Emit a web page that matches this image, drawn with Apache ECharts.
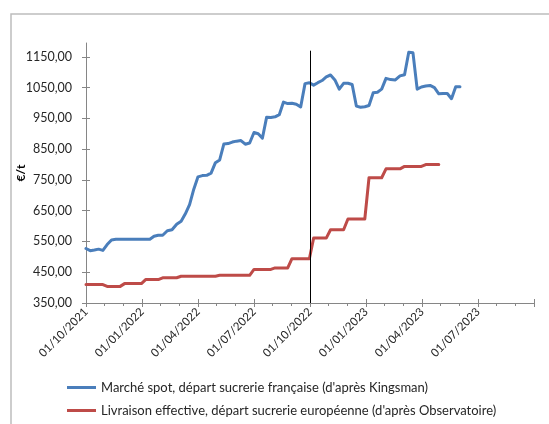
<!DOCTYPE html>
<html>
<head>
<meta charset="utf-8">
<script src="https://cdn.jsdelivr.net/npm/echarts@6/dist/echarts.min.js"></script>
<style>
  html, body { margin: 0; padding: 0; background: #ffffff; }
  #chart { width: 549px; height: 424px; }
</style>
</head>
<body>
<div id="chart"></div>
<script>
// Weekly observation dates
const weekDates = [
  '2021-10-01','2021-10-08','2021-10-15','2021-10-22','2021-10-29','2021-11-05','2021-11-12','2021-11-19','2021-11-26',
  '2021-12-03','2021-12-10','2021-12-17','2021-12-24','2021-12-31',
  '2022-01-07','2022-01-14','2022-01-21','2022-01-28','2022-02-04','2022-02-11','2022-02-18','2022-02-25',
  '2022-03-04','2022-03-11','2022-03-18','2022-03-25','2022-04-01','2022-04-08','2022-04-15','2022-04-22','2022-04-29',
  '2022-05-06','2022-05-13','2022-05-20','2022-05-27','2022-06-03','2022-06-10','2022-06-17','2022-06-24',
  '2022-07-01','2022-07-08','2022-07-15','2022-07-22','2022-07-29','2022-08-05','2022-08-12','2022-08-19','2022-08-26',
  '2022-09-02','2022-09-09','2022-09-16','2022-09-23','2022-09-30','2022-10-07','2022-10-14','2022-10-21','2022-10-28',
  '2022-11-04','2022-11-11','2022-11-18','2022-11-25','2022-12-02','2022-12-09','2022-12-16','2022-12-23','2022-12-30',
  '2023-01-06','2023-01-13','2023-01-20','2023-01-27','2023-02-03','2023-02-10','2023-02-17','2023-02-24',
  '2023-03-03','2023-03-10','2023-03-17','2023-03-24','2023-03-31','2023-04-07','2023-04-14','2023-04-21','2023-04-28',
  '2023-05-05','2023-05-12','2023-05-19','2023-05-26','2023-06-02'
];

// Spot market price, French sugar factory (€/t)
const spotPrices = [
  527, 520, 522, 525, 521, 540, 555, 557, 557, 557, 557, 557, 557, 557,
  557, 557, 567, 570, 570, 585, 588, 606, 616, 640, 670, 720, 760, 764, 765, 772, 806,
  815, 867, 868, 873, 876, 878, 866, 870, 904, 900, 886, 954, 953, 955, 962, 1003, 998,
  999, 996, 987, 1063, 1066, 1058, 1066, 1073, 1085, 1091, 1075, 1045, 1064, 1064, 1060, 990, 986, 988,
  992, 1033, 1035, 1045, 1080, 1076, 1075, 1088, 1092, 1165, 1163, 1045, 1052, 1055, 1057, 1050, 1030,
  1031, 1031, 1014, 1053, 1053
];

// Effective delivery price, European sugar factory (€/t)
const deliveryPrices = [
  410, 410, 410, 410, 410, 404, 404, 404, 404, 413, 413, 413, 413, 413,
  426, 426, 426, 426, 432, 432, 432, 432, 437, 437, 437, 437, 437, 437, 437, 437, 437,
  440, 440, 440, 440, 440, 440, 440, 440, 459, 459, 459, 459, 459, 464, 464, 464, 464,
  494, 494, 494, 494, 494, 561, 561, 561, 561, 588, 588, 588, 588, 623, 623, 623, 623, 623,
  757, 757, 757, 757, 786, 786, 786, 786, 794, 794, 794, 794, 794, 800, 800, 800, 800
];

const seriesNames = [
  "Marché spot, départ sucrerie française (d'après Kingsman)",
  "Livraison effective, départ sucrerie européenne (d'après Observatoire)"
];

const xTickLabels = ['01/10/2021','01/01/2022','01/04/2022','01/07/2022','01/10/2022','01/01/2023','01/04/2023','01/07/2023'];
const yTicks = [350, 450, 550, 650, 750, 850, 950, 1050, 1150];

// Campaign change marker
const dividerDate = '2022-10-01';
const dividerTop = 1170;

const FONT = 'Lato, "Open Sans", sans-serif';
const AXIS_GREY = '#868686';

// Month position counted from October 2021 (fractional within the month)
function monthPos(dateStr) {
  const [y, m, d] = dateStr.split('-').map(Number);
  const dim = new Date(y, m, 0).getDate();
  return (y - 2021) * 12 + (m - 10) + (d - 1) / dim;
}

const spotData = spotPrices.map((v, i) => [monthPos(weekDates[i]), v]);
const deliveryData = deliveryPrices.map((v, i) => [monthPos(weekDates[i]), v]);
const dividerX = monthPos(dividerDate);

const fmtY = v => v.toFixed(2).replace('.', ',');
const fmtX = v => xTickLabels[Math.round(v / 3)] || '';

const chart = echarts.init(document.getElementById('chart'), null, { renderer: 'canvas' });

chart.setOption({
  animation: false,
  backgroundColor: '#ffffff',
  textStyle: { fontFamily: FONT },
  graphic: [{
    type: 'rect',
    silent: true,
    shape: { x: 11, y: 14, width: 700, height: 600 },
    style: { fill: 'none', stroke: '#bdbdbd', lineWidth: 1.5 }
  }],
  grid: { left: 86, right: 15, top: 43, bottom: 121, containLabel: false, outerBoundsMode: 'none' },
  legend: {
    orient: 'vertical',
    left: 62,
    top: 376,
    itemWidth: 29,
    itemHeight: 3,
    itemGap: 10,
    icon: 'rect',
    textStyle: { fontFamily: FONT, fontSize: 13, color: '#262626' },
    data: seriesNames
  },
  xAxis: [{
    type: 'value',
    position: 'bottom',
    min: 0, max: 24, interval: 3,
    axisLine: { onZero: false, lineStyle: { color: AXIS_GREY, width: 1 } },
    axisTick: { length: 4, lineStyle: { color: AXIS_GREY } },
    minorTick: { show: true, splitNumber: 3, length: 3, lineStyle: { color: AXIS_GREY } },
    splitLine: { show: false },
    minorSplitLine: { show: false },
    axisLabel: {
      rotate: 45, margin: 7, fontSize: 11.5, color: '#262626', fontFamily: FONT,
      showMaxLabel: false, formatter: fmtX
    }
  }, {
    type: 'value',
    position: 'bottom',
    min: 0, max: 24, interval: 3,
    axisLine: { show: false, onZero: false },
    axisTick: { inside: true, length: 4, lineStyle: { color: AXIS_GREY } },
    minorTick: { show: false },
    splitLine: { show: false },
    axisLabel: { show: false }
  }],
  yAxis: [{
    type: 'value',
    position: 'left',
    min: 350, max: 1195, interval: 100,
    name: '€/t',
    nameLocation: 'middle',
    nameGap: 59,
    nameRotate: 90,
    nameMoveOverlap: false,
    nameTextStyle: { fontFamily: FONT, fontSize: 12, fontWeight: 'bold', color: '#000' },
    axisLine: { show: true, onZero: false, lineStyle: { color: AXIS_GREY, width: 1 } },
    axisTick: { show: true, length: 4, customValues: yTicks, lineStyle: { color: AXIS_GREY } },
    splitLine: { show: false },
    axisLabel: {
      customValues: yTicks, margin: 14, fontSize: 12.5, color: '#262626', fontFamily: FONT,
      formatter: fmtY
    }
  }, {
    type: 'value',
    position: 'left',
    min: 350, max: 1195, interval: 100,
    axisLine: { show: false, onZero: false },
    axisTick: { show: true, inside: true, length: 4, customValues: yTicks, lineStyle: { color: AXIS_GREY } },
    splitLine: { show: false },
    axisLabel: { show: false }
  }],
  series: [{
    name: seriesNames[0],
    type: 'line',
    xAxisIndex: 0, yAxisIndex: 0,
    data: spotData,
    showSymbol: false,
    symbol: 'none',
    lineStyle: { color: '#4A7EBB', width: 3, join: 'round', cap: 'round' },
    itemStyle: { color: '#4A7EBB' },
    z: 3,
    markLine: {
      silent: true,
      symbol: 'none',
      label: { show: false },
      lineStyle: { color: '#000000', width: 1, type: 'solid' },
      data: [[{ coord: [dividerX, dividerTop] }, { coord: [dividerX, 350] }]],
      z: 4
    }
  }, {
    name: seriesNames[1],
    type: 'line',
    xAxisIndex: 0, yAxisIndex: 0,
    data: deliveryData,
    showSymbol: false,
    symbol: 'none',
    lineStyle: { color: '#BE4B48', width: 3, join: 'round', cap: 'round' },
    itemStyle: { color: '#BE4B48' },
    z: 2
  }]
});
</script>
</body>
</html>
